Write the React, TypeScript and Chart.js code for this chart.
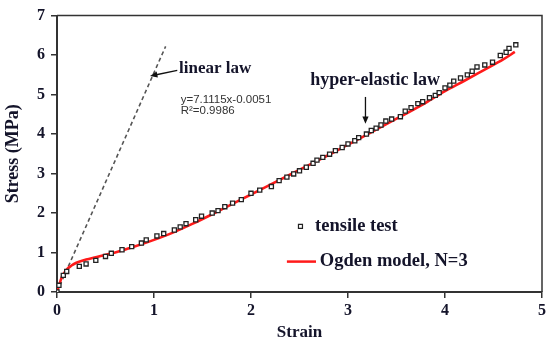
import React, { useEffect, useRef } from "react";
import { Chart, registerables } from "chart.js";

Chart.register(...registerables);

// Tensile test data (strain, stress MPa)
const testStrain = [0, 0.02, 0.065, 0.1, 0.23, 0.3, 0.4, 0.5, 0.56, 0.67, 0.77, 0.87, 0.92, 1.03, 1.1, 1.21, 1.27, 1.33, 1.43, 1.49, 1.6, 1.66, 1.73, 1.81, 1.9, 2.0, 2.09, 2.21, 2.29, 2.37, 2.44, 2.5, 2.57, 2.64, 2.68, 2.74, 2.81, 2.87, 2.94, 3.0, 3.07, 3.11, 3.19, 3.24, 3.29, 3.34, 3.39, 3.45, 3.54, 3.59, 3.65, 3.72, 3.77, 3.84, 3.9, 3.94, 4.0, 4.05, 4.09, 4.16, 4.23, 4.28, 4.33, 4.41, 4.49, 4.57, 4.63, 4.66, 4.73];
const testStress = [0, 0.17, 0.42, 0.52, 0.65, 0.71, 0.8, 0.9, 0.98, 1.07, 1.15, 1.24, 1.32, 1.42, 1.48, 1.57, 1.65, 1.73, 1.83, 1.92, 2.0, 2.06, 2.16, 2.25, 2.34, 2.5, 2.58, 2.67, 2.82, 2.91, 2.99, 3.07, 3.16, 3.26, 3.34, 3.41, 3.49, 3.58, 3.66, 3.75, 3.83, 3.91, 4.0, 4.09, 4.15, 4.23, 4.33, 4.38, 4.44, 4.58, 4.67, 4.77, 4.82, 4.92, 4.98, 5.05, 5.17, 5.24, 5.34, 5.42, 5.5, 5.59, 5.7, 5.75, 5.82, 5.99, 6.07, 6.17, 6.26];

// Ogden model, N=3
const ogdenStrain = [0, 0.02, 0.05, 0.1, 0.15, 0.2, 0.3, 0.4, 0.5, 0.6, 0.8, 1.0, 1.2, 1.4, 1.6, 1.8, 2.0, 2.2, 2.4, 2.6, 2.8, 3.0, 3.2, 3.4, 3.6, 3.8, 4.0, 4.2, 4.4, 4.6, 4.72];
const ogdenStress = [0, 0.16, 0.38, 0.57, 0.67, 0.74, 0.82, 0.88, 0.94, 1.0, 1.15, 1.32, 1.51, 1.73, 1.97, 2.22, 2.47, 2.72, 2.97, 3.22, 3.47, 3.73, 3.99, 4.26, 4.52, 4.79, 5.09, 5.35, 5.62, 5.89, 6.08];

// Linear law (dashed)
const linearStrain = [0, 1.12];
const linearStress = [0, 6.22];

const xTicks = [0, 1, 2, 3, 4, 5];
const yTicks = [0, 1, 2, 3, 4, 5, 6, 7];

const SERIF = "'Liberation Serif', 'Times New Roman', serif";
const SANS = "'Liberation Sans', Arial, sans-serif";
const INK = "#14142a";

function arrow(ctx: CanvasRenderingContext2D, x1: number, y1: number, x2: number, y2: number, head: number) {
  const ang = Math.atan2(y2 - y1, x2 - x1);
  ctx.beginPath();
  ctx.moveTo(x1, y1);
  ctx.lineTo(x2 - Math.cos(ang) * head * 0.8, y2 - Math.sin(ang) * head * 0.8);
  ctx.stroke();
  ctx.beginPath();
  ctx.moveTo(x2, y2);
  ctx.lineTo(x2 - head * Math.cos(ang - 0.4), y2 - head * Math.sin(ang - 0.4));
  ctx.lineTo(x2 - head * Math.cos(ang + 0.4), y2 - head * Math.sin(ang + 0.4));
  ctx.closePath();
  ctx.fill();
}

const overlay = {
  id: "overlay",
  afterDraw(chart: any) {
    const { ctx, chartArea, scales } = chart;
    const X = (v: number) => scales.x.getPixelForValue(v);
    const Y = (v: number) => scales.y.getPixelForValue(v);
    ctx.save();
    // frame top/right
    ctx.strokeStyle = "#333";
    ctx.lineWidth = 1.5;
    ctx.beginPath();
    ctx.moveTo(chartArea.left, chartArea.top);
    ctx.lineTo(chartArea.right, chartArea.top);
    ctx.lineTo(chartArea.right, chartArea.bottom);
    ctx.stroke();

    // linear law annotation
    ctx.fillStyle = INK;
    ctx.textBaseline = "middle";
    ctx.textAlign = "left";
    ctx.font = `bold 17px ${SERIF}`;
    ctx.fillText("linear law", X(1.258), Y(5.65));
    ctx.strokeStyle = "#111";
    ctx.fillStyle = "#111";
    ctx.lineWidth = 1.3;
    arrow(ctx, X(1.24), Y(5.61), X(0.959), Y(5.47), 8);

    // equation
    ctx.fillStyle = "#333";
    ctx.font = `11.5px ${SANS}`;
    ctx.fillText("y=7.1115x-0.0051", X(1.275), Y(4.87));
    ctx.fillText("R²=0.9986", X(1.275), Y(4.6));

    // hyper-elastic law
    ctx.fillStyle = INK;
    ctx.font = `bold 18px ${SERIF}`;
    ctx.textAlign = "center";
    ctx.fillText("hyper-elastic law", X(3.28), Y(5.37));
    ctx.strokeStyle = "#111";
    ctx.fillStyle = "#111";
    ctx.lineWidth = 1.3;
    arrow(ctx, X(3.18), Y(4.94), X(3.18), Y(4.26), 8);

    // legend
    ctx.textAlign = "left";
    ctx.strokeStyle = "#222";
    ctx.fillStyle = "#fff";
    ctx.lineWidth = 1.2;
    ctx.beginPath();
    ctx.rect(X(2.51) - 2, Y(1.66) - 2, 4, 4);
    ctx.fill();
    ctx.stroke();
    ctx.fillStyle = INK;
    ctx.font = `bold 18.5px ${SERIF}`;
    ctx.fillText("tensile test", X(2.66), Y(1.66));
    ctx.strokeStyle = "#ff1a1a";
    ctx.lineWidth = 2.5;
    ctx.beginPath();
    ctx.moveTo(X(2.37), Y(0.77));
    ctx.lineTo(X(2.67), Y(0.77));
    ctx.stroke();
    ctx.fillStyle = INK;
    ctx.fillText("Ogden model, N=3", X(2.71), Y(0.77));
    ctx.restore();
  },
};

export default function App() {
  const ref = useRef<HTMLCanvasElement>(null);
  useEffect(() => {
    if (!ref.current) return;
    const chart = new Chart(ref.current, {
      type: "scatter",
      data: {
        datasets: [
          {
            label: "tensile test",
            data: testStrain.map((x, i) => ({ x, y: testStress[i] })),
            showLine: false,
            pointStyle: "rect",
            pointRadius: 2.9,
            pointBorderWidth: 1.3,
            pointBorderColor: "#222",
            pointBackgroundColor: "#fff",
            order: 0,
          },
          {
            label: "Ogden model, N=3",
            data: ogdenStrain.map((x, i) => ({ x, y: ogdenStress[i] })),
            showLine: true,
            borderColor: "#ff1a1a",
            borderWidth: 2.6,
            pointRadius: 0,
            cubicInterpolationMode: "monotone",
            order: 1,
          },
          {
            label: "linear law",
            data: linearStrain.map((x, i) => ({ x, y: linearStress[i] })),
            showLine: true,
            borderColor: "#555",
            borderWidth: 1.6,
            borderDash: [4, 3],
            pointRadius: 0,
            order: 2,
          },
        ],
      },
      options: {
        animation: false,
        responsive: false,
        maintainAspectRatio: false,
        layout: { padding: { top: 13, right: 8, left: 0, bottom: 0 } },
        plugins: { legend: { display: false }, tooltip: { enabled: false } },
        scales: {
          x: {
            type: "linear",
            min: 0,
            max: 5,
            afterFit: (s: any) => { s.height = 55; },
            afterBuildTicks: (s: any) => { s.ticks = xTicks.map((v) => ({ value: v })); },
            border: { display: true, color: "#333", width: 2 },
            grid: { drawOnChartArea: false, drawTicks: true, tickLength: 6, color: "#333", lineWidth: 1.5 },
            ticks: { color: INK, font: { family: SERIF, size: 16, weight: "bold" }, padding: 3 },
            title: { display: true, text: "Strain", color: INK, font: { family: SERIF, size: 17, weight: "bold" }, padding: { top: 0, bottom: 4 } },
          },
          y: {
            type: "linear",
            min: 0,
            max: 7,
            afterFit: (s: any) => { s.width = 57; },
            afterBuildTicks: (s: any) => { s.ticks = yTicks.map((v) => ({ value: v })); },
            border: { display: true, color: "#333", width: 2 },
            grid: { drawOnChartArea: false, drawTicks: true, tickLength: 6, color: "#333", lineWidth: 1.5 },
            ticks: { color: INK, font: { family: SERIF, size: 16, weight: "bold" }, padding: 6 },
            title: { display: true, text: "Stress (MPa)", color: INK, font: { family: SERIF, size: 18, weight: "bold" }, padding: { top: 3, bottom: 0 } },
          },
        },
      },
      plugins: [overlay],
    });
    return () => chart.destroy();
  }, []);
  return (
    <div style={{ position: "fixed", left: 0, top: 0, width: 550, height: 347, background: "#fff" }}>
      <canvas ref={ref} width={550} height={347} style={{ width: 550, height: 347 }} />
    </div>
  );
}
